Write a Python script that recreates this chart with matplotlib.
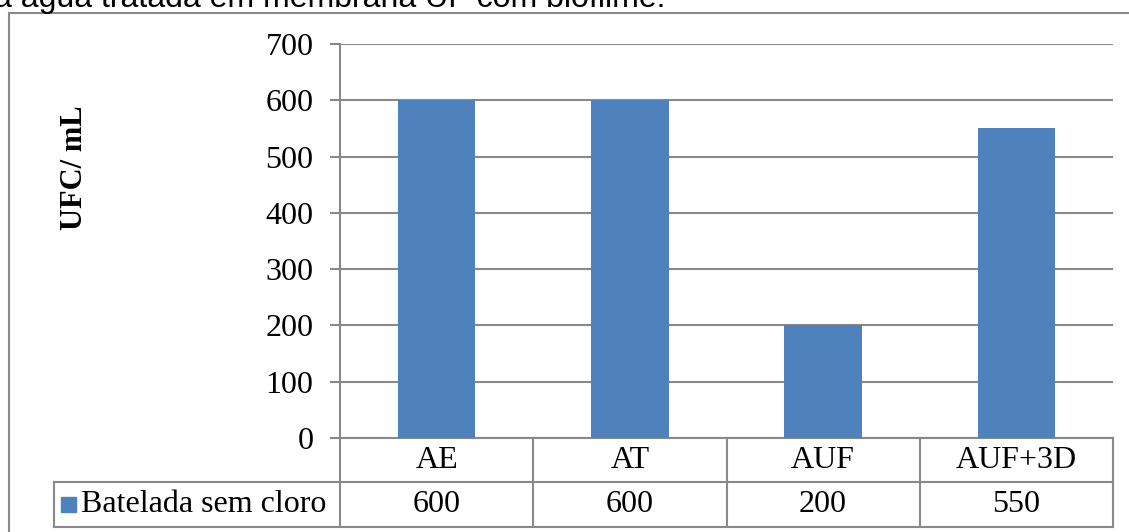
import numpy as np
import matplotlib.pyplot as plt
from matplotlib.patches import Rectangle
from matplotlib.transforms import blended_transform_factory

categorias = ["AE", "AT", "AUF", "AUF+3D"]
valores = [600, 600, 200, 550]
serie = "Batelada sem cloro"
titulo = "a água tratada em membrana UF com biofilme."

W, H = 1129, 532
plt.rcParams['font.family'] = ['Liberation Serif', 'DejaVu Serif']

cinza = "#898989"
azul = "#4F81BD"

fig = plt.figure(figsize=(W / 100, H / 100), dpi=100)

# area do grafico (pixels: x 340-1113, y 44-438)
ax = fig.add_axes([340 / W, 1 - 438 / H, 773 / W, 394 / H])
x = np.arange(len(categorias))
ax.bar(x, valores, width=0.4, color=azul, zorder=3)
ax.set_xlim(-0.5, len(categorias) - 0.5)
ax.set_ylim(0, 700)
ax.set_yticks(range(0, 701, 100))
ax.set_xticks([])
ax.yaxis.grid(True, color=cinza, lw=1.5)
ax.set_axisbelow(True)
for s in ['top', 'right']:
    ax.spines[s].set_visible(False)
for s in ['left', 'bottom']:
    ax.spines[s].set_color(cinza)
    ax.spines[s].set_linewidth(1.5)
ax.tick_params(axis='y', length=7, width=1.5, color=cinza, pad=12, labelsize=23)

# tabela de dados abaixo do eixo
r1 = 44 / 394
r2 = 89 / 394
leg_x = (54 - 340) / 773
trans = blended_transform_factory(ax.transData, ax.transAxes)
kw = dict(color=cinza, lw=1.5, clip_on=False)
for xv in np.arange(len(categorias) + 1) - 0.5:
    ax.plot([xv, xv], [0, -r2], transform=trans, **kw)
ax.plot([leg_x, leg_x], [-r1, -r2], transform=ax.transAxes, **kw)
for yv in [-r1, -r2]:
    ax.plot([leg_x, 1], [yv, yv], transform=ax.transAxes, **kw)

for i, (c, v) in enumerate(zip(categorias, valores)):
    ax.text(i, -r1 / 2, c, transform=trans, ha='center', va='center', fontsize=23)
    ax.text(i, -(r1 + r2) / 2, str(v), transform=trans, ha='center', va='center', fontsize=23)

ax.add_patch(Rectangle(((61 - 340) / 773, -(r1 + r2) / 2 - 7.5 / 394), 15 / 773, 15 / 394,
                       transform=ax.transAxes, color=azul, clip_on=False))
ax.text((81 - 340) / 773, -(r1 + r2) / 2, serie, transform=ax.transAxes,
        ha='left', va='center', fontsize=23)

fig.text(75 / W, 1 - 168 / H, "UFC/ mL", rotation=90, fontweight='bold',
         fontsize=22, ha='center', va='center')

# borda externa do grafico
fig.add_artist(Rectangle((9 / W, -0.1), 1.1, 1.1 - 13 / H, transform=fig.transFigure,
                         fill=False, edgecolor=cinza, lw=1.5))

# legenda da figura (cortada no topo da pagina)
fig.text(-6 / W, 1 - 7 / H, titulo, family=['Liberation Sans', 'DejaVu Sans'],
         fontsize=23, ha='left', va='baseline')

fig.savefig("out.png", dpi=100)
